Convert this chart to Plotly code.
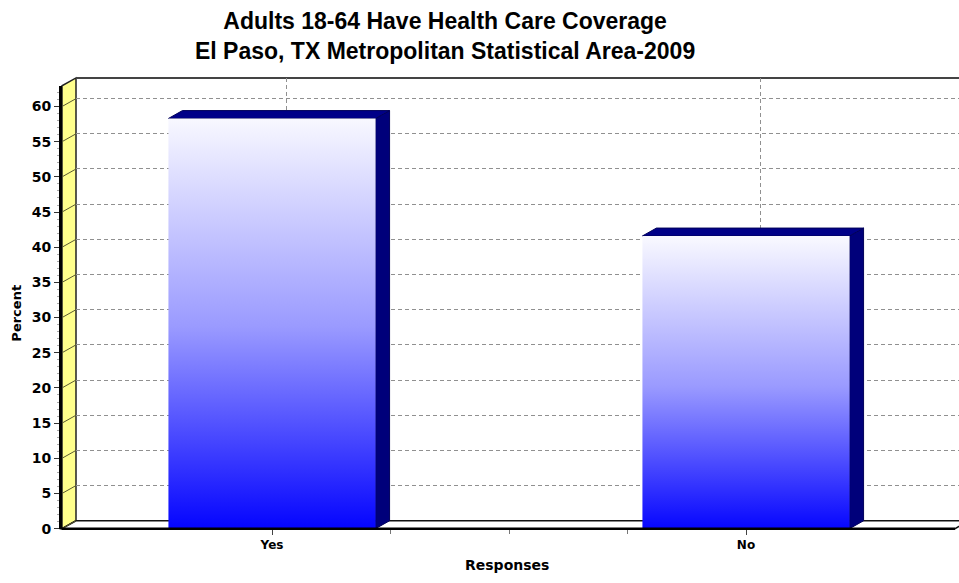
import plotly.graph_objects as go

# ---------------- data ----------------
categories = ["Yes", "No"]
percent_values = [58.3, 41.6]
y_tick_values = [0, 5, 10, 15, 20, 25, 30, 35, 40, 45, 50, 55, 60]
y_tick_labels = [str(v) for v in y_tick_values]
x_minor_ticks = [0.25, 0.5, 0.75]
title_line1 = "Adults 18-64 Have Health Care Coverage"
title_line2 = "El Paso, TX Metropolitan Statistical Area-2009"
x_title = "Responses"
y_title = "Percent"

# ---------------- geometry (pixels) ----------------
W, H = 959, 583
PX_PER_UNIT = (536 - 108) / 60.0      # vertical pixels per percent
PX_PER_CAT = 474.0                    # horizontal pixels per category
DX, DY = 14, 8                        # 3D depth offset in pixels
FRONT_L, FRONT_R, FRONT_B, FRONT_T = 62, 945, 536, 87
BACK_L, BACK_R, BACK_B, BACK_T = FRONT_L + DX, FRONT_R + DX, FRONT_B - DY, FRONT_T - DY
CAT0_PX = 272

x_lo = (FRONT_L - CAT0_PX) / PX_PER_CAT
x_hi = (FRONT_R - CAT0_PX) / PX_PER_CAT
y_hi = (FRONT_B - FRONT_T) / PX_PER_UNIT
dxu = DX / PX_PER_CAT
dyv = DY / PX_PER_UNIT
half_w = 0.2185


def px(p):
    return p / W


def py(p):
    return 1 - p / H


fig = go.Figure()

# invisible trace so the back-plane subplot (grid) is always built
fig.add_trace(go.Scatter(x=[None], y=[None], xaxis="x", yaxis="y",
                         mode="markers", hoverinfo="skip", showlegend=False))

# bars (front plane axes x2/y2)
for i, (cat, v) in enumerate(zip(categories, percent_values)):
    l, r = i - half_w, i + half_w
    # side face
    fig.add_trace(go.Scatter(
        x=[r, r + dxu, r + dxu, r, r], y=[0, dyv, v + dyv, v, 0],
        xaxis="x2", yaxis="y2", mode="lines", fill="toself",
        fillcolor="#00007a", line=dict(color="#00005a", width=1),
        hoverinfo="skip", showlegend=False))
    # top face
    fig.add_trace(go.Scatter(
        x=[l, r, r + dxu, l + dxu, l], y=[v, v, v + dyv, v + dyv, v],
        xaxis="x2", yaxis="y2", mode="lines", fill="toself",
        fillcolor="#000088", line=dict(color="#00005a", width=1),
        hoverinfo="skip", showlegend=False))
    # front face with vertical gradient
    fig.add_trace(go.Scatter(
        x=[l, r, r, l, l], y=[0, 0, v, v, 0],
        xaxis="x2", yaxis="y2", mode="lines", fill="toself",
        fillgradient=dict(type="vertical", start=0, stop=v,
                          colorscale=[[0, "#0000ff"], [0.5, "#9a9aff"], [1, "#f8f8ff"]]),
        line=dict(width=0, color="rgba(0,0,0,0)"),
        name=cat, text=[f"{cat}: {v}%"] * 5, hoverinfo="text", showlegend=False))

grid_dash = "4px,3px"
fig.update_layout(
    width=W, height=H,
    margin=dict(l=0, r=0, t=0, b=0),
    paper_bgcolor="white", plot_bgcolor="rgba(0,0,0,0)",
    showlegend=False,
    # back plane: grid only
    xaxis=dict(domain=[px(BACK_L), min(1, px(BACK_R))], range=[x_lo, x_hi],
               tickmode="array", tickvals=list(range(len(categories))),
               showticklabels=False, ticks="", showgrid=True,
               gridcolor="#909090", griddash=grid_dash, gridwidth=1,
               zeroline=False, showline=False, anchor="y", fixedrange=True),
    yaxis=dict(domain=[py(BACK_B), py(BACK_T)], range=[0, y_hi],
               tickmode="array", tickvals=y_tick_values[1:],
               showticklabels=False, ticks="", showgrid=True,
               gridcolor="#909090", griddash=grid_dash, gridwidth=1,
               zeroline=False, showline=False, anchor="x", fixedrange=True),
    # front plane: bars, ticks, labels
    xaxis2=dict(domain=[px(FRONT_L), px(FRONT_R)], range=[x_lo, x_hi],
                tickmode="array", tickvals=list(range(len(categories))),
                ticktext=categories, ticks="outside", ticklen=5, tickcolor="#444",
                minor=dict(tickmode="array", tickvals=x_minor_ticks, ticks="outside",
                           ticklen=4, tickcolor="#777"),
                tickfont=dict(family="DejaVu Sans", size=12, color="black", weight="bold"),
                showgrid=False, zeroline=False, showline=False,
                anchor="y2", fixedrange=True),
    yaxis2=dict(domain=[py(FRONT_B), py(FRONT_T)], range=[0, y_hi],
                tickmode="array", tickvals=y_tick_values, ticktext=y_tick_labels,
                ticks="outside", ticklen=5, tickcolor="#333",
                minor=dict(dtick=1, ticks="outside", ticklen=2, tickcolor="#aaa"),
                tickfont=dict(family="DejaVu Sans", size=14, color="black", weight="bold"),
                showgrid=False, zeroline=False, showline=True,
                linecolor="black", linewidth=3,
                anchor="x2", fixedrange=True),
)

shapes = []
# yellow left wall
shapes.append(dict(type="path", xref="paper", yref="paper", layer="below",
                   path=f"M {px(FRONT_L)} {py(FRONT_B)} L {px(FRONT_L)} {py(FRONT_T)} "
                        f"L {px(BACK_L)} {py(BACK_T)} L {px(BACK_L)} {py(BACK_B)} Z",
                   fillcolor="#ffff8c", line=dict(color="#222", width=1.5)))
# floor
shapes.append(dict(type="path", xref="paper", yref="paper", layer="below",
                   path=f"M {px(FRONT_L)} {py(FRONT_B)} L {px(955)} {py(FRONT_B)} "
                        f"L {px(955 + DX)} {py(BACK_B)} L {px(BACK_L)} {py(BACK_B)} Z",
                   fillcolor="white", line=dict(color="#111", width=1.5)))
# floor front edge (thick)
shapes.append(dict(type="line", xref="paper", yref="paper", layer="above",
                   x0=px(FRONT_L), x1=px(955), y0=py(FRONT_B), y1=py(FRONT_B),
                   line=dict(color="black", width=2.5)))
# back wall top border
shapes.append(dict(type="line", xref="paper", yref="paper", layer="below",
                   x0=px(BACK_L), x1=1, y0=py(BACK_T), y1=py(BACK_T),
                   line=dict(color="#444", width=2)))
# diagonal tick connectors across the side wall
for v in y_tick_values:
    shapes.append(dict(type="line", xref="paper", yref="y2", layer="below",
                       x0=px(FRONT_L), x1=px(BACK_L), y0=v, y1=v + dyv,
                       line=dict(color="#5a5a30", width=1)))
fig.update_layout(shapes=shapes)

title_font = dict(family="Liberation Sans Narrow, Arial Narrow, Liberation Sans, Arial",
                  size=23, color="black", weight="bold")
fig.add_annotation(text=title_line1 + "<br>" + title_line2,
                   x=px(445), y=py(36), xref="paper", yref="paper",
                   xanchor="center", yanchor="middle", showarrow=False, font=title_font)
fig.add_annotation(text=x_title, x=px(507), y=py(573), xref="paper", yref="paper",
                   xanchor="center", yanchor="middle", showarrow=False,
                   font=dict(family="DejaVu Sans", size=14, color="black", weight="bold"))
fig.add_annotation(text=y_title, x=px(17), y=py(318), xref="paper", yref="paper",
                   xanchor="center", yanchor="middle", showarrow=False, textangle=-90,
                   font=dict(family="DejaVu Sans", size=13, color="black", weight="bold"))

fig.write_html("out.html")
